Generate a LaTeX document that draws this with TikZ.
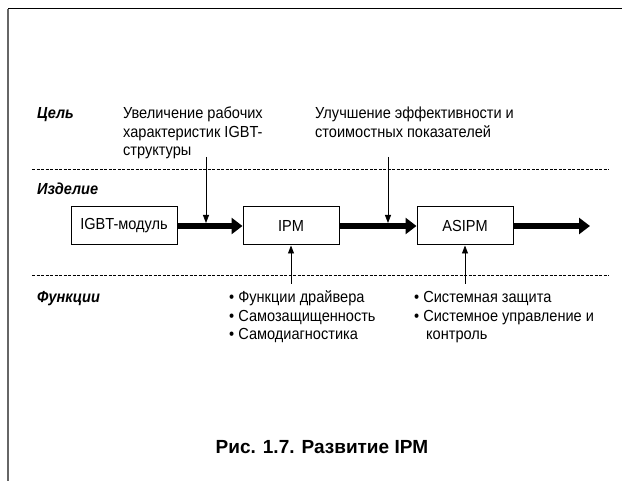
\documentclass[tikz,border=0pt]{standalone}
\usepackage{fontspec}
\setmainfont{Liberation Sans}
\newfontfamily\condfont[FakeStretch=0.91]{Liberation Sans}
\usetikzlibrary{arrows.meta}
\begin{document}
\begin{tikzpicture}[x=1pt,y=-1pt,
  txt/.style={font=\condfont\fontsize{16}{18.5}\selectfont, inner sep=0pt, align=left, anchor=base west},
  lbl/.style={font=\condfont\fontsize{16}{18.5}\selectfont\bfseries\itshape, inner sep=0pt, anchor=base west},
  box/.style={draw, line width=1pt, minimum width=96pt, minimum height=38pt, inner sep=0pt, font=\condfont\fontsize{16}{18.5}\selectfont},
  bigarrow/.style={line width=6pt, -{Triangle[length=11pt,width=16pt]}},
  thinarrow/.style={line width=0.8pt, -{Triangle[length=8pt,width=6pt]}},
  sepline/.style={dash pattern=on 3pt off 1.5pt, line width=0.8pt},
]
\useasboundingbox (0,0) rectangle (622,481);
% frame
\draw[line width=1pt] (8,9) -- (622,9);
\draw[line width=2pt, black!60] (8,9) -- (8,481);
% separators
\draw[sepline] (32,169) -- (609,169);
\draw[sepline] (32,275) -- (609,275);
% row labels
\node[lbl] (goal) at (37,119) {Цель};
\node[lbl] (prod) at (37,195) {Изделие};
\node[lbl] (func) at (37,303) {Функции};
% goal texts (base anchor = last line's baseline)
\node[txt] (g1) at (123,156) {Увеличение рабочих\\характеристик IGBT-\\структуры};
\node[txt] (g2) at (315,137.5) {Улучшение эффективности и\\стоимостных показателей};
% boxes
\node[box, minimum width=106pt] (igbt) at (124,226) {IGBT-модуль};
\node[box] (ipm) at (291,226) {IPM};
\node[box] (asipm) at (465,226) {ASIPM};
\coordinate (out) at (590,226);
\draw[bigarrow] (igbt.east) -- (ipm.west);
\draw[bigarrow] (ipm.east) -- (asipm.west);
\draw[bigarrow] (asipm.east) -- (out);
% goal arrows
\coordinate (a1s) at (206,157);
\coordinate (a1e) at (206,223);
\coordinate (a2s) at (388,157);
\coordinate (a2e) at (388,223);
\draw[thinarrow] (a1s) -- (a1e);
\draw[thinarrow] (a2s) -- (a2e);
% function arrows
\coordinate (b1s) at (291,284);
\coordinate (b2s) at (465,284);
\draw[thinarrow] (b1s) -- (ipm.south);
\draw[thinarrow] (b2s) -- (asipm.south);
% function texts
\node[txt] (f1) at (229,340) {• Функции драйвера\\• Самозащищенность\\• Самодиагностика};
\node[txt] (f2) at (414,340) {• Системная защита\\• Системное управление и\\\hspace*{12pt}контроль};
% caption
\node[font=\fontsize{19}{22}\selectfont\bfseries, inner sep=0pt] (cap) at (322,447) {Рис. 1.7. Развитие IPM};
\end{tikzpicture}
\end{document}
